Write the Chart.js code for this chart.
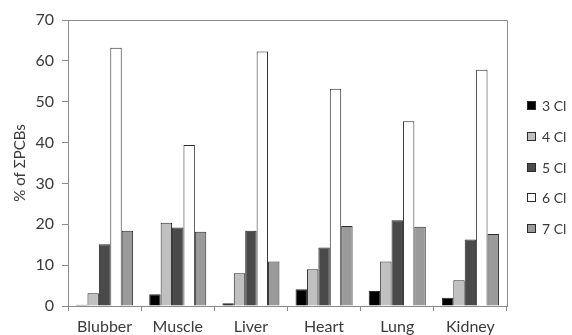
<!DOCTYPE html>
<html><head><meta charset="utf-8">
<script src="https://cdn.jsdelivr.net/npm/chart.js@4"></script>
<style>html,body{margin:0;padding:0;background:#fff}#wrap{width:572px;height:335px}</style>
</head><body><div id="wrap"><canvas id="c" width="572" height="335"></canvas></div>
<script>
const categories = ["Blubber","Muscle","Liver","Heart","Lung","Kidney"];
const seriesNames = ["3 Cl","4 Cl","5 Cl","6 Cl","7 Cl"];
const cl3 = [0.3, 2.9, 0.65, 4.1, 3.7, 2.0];
const cl4 = [3.1, 20.4, 8.0, 9.0, 10.9, 6.3];
const cl5 = [15.1, 19.2, 18.4, 14.3, 21.0, 16.3];
const cl6 = [63.2, 39.4, 62.3, 53.2, 45.2, 57.8];
const cl7 = [18.4, 18.2, 10.9, 19.6, 19.4, 17.6];
const yTicks = [0,10,20,30,40,50,60,70];

const fills = ["#000000","#c0c0c0","#4a4a4a","#ffffff","#9a9a9a"];
const values = [cl3, cl4, cl5, cl6, cl7];
const FONT = "Lato";
const TXT = "#3a3a3a";
const AXIS = "#8a8a8a";

const frame = {
  id: 'frame',
  afterDatasetsDraw(chart) {
    const a = chart.chartArea, ctx = chart.ctx;
    ctx.save();
    ctx.strokeStyle = AXIS; ctx.lineWidth = 1;
    ctx.beginPath();
    ctx.moveTo(Math.round(a.left)+0.5, Math.round(a.bottom)+0.5);
    ctx.lineTo(Math.round(a.left)+0.5, Math.round(a.top)+0.5);
    ctx.lineTo(Math.round(a.right)+0.5, Math.round(a.top)+0.5);
    ctx.lineTo(Math.round(a.right)+0.5, Math.round(a.bottom)+0.5);
    ctx.stroke();
    ctx.restore();
  }
};

const sideLegend = {
  id: 'sideLegend',
  afterDraw(chart) {
    const ctx = chart.ctx, ds = chart.data.datasets;
    const step = 30.8, box = 9;
    const x0 = chart.chartArea.right + 20;
    const yc = chart.height / 2 - 1;
    const y0 = yc - step * (ds.length - 1) / 2;
    ctx.save();
    ctx.font = "14px " + FONT;
    ctx.textBaseline = "middle";
    ds.forEach((d, i) => {
      const y = Math.round(y0 + i * step);
      ctx.fillStyle = d.backgroundColor;
      ctx.fillRect(x0, y - 4, box, box);
      ctx.strokeStyle = d.borderColor; ctx.lineWidth = 1;
      ctx.strokeRect(x0 + 0.5, y - 3.5, box - 1, box - 1);
      ctx.fillStyle = TXT;
      ctx.fillText(d.label, x0 + box + 6, y + 1);
    });
    ctx.restore();
  }
};

new Chart(document.getElementById('c'), {
  type: 'bar',
  data: {
    labels: categories,
    datasets: seriesNames.map((n,i)=>({
      label: n, data: values[i], backgroundColor: fills[i],
      borderColor: "#2a2a2a", borderWidth: 1,
      categoryPercentage: 0.78, barPercentage: 1.0
    }))
  },
  options: {
    responsive: false, animation: false,
    layout: { padding: { top: 20, right: 65, bottom: 0, left: 0 } },
    plugins: { legend: { display: false }, tooltip: { enabled: false } },
    scales: {
      x: {
        afterFit: (s) => { s.height = 29; },
        grid: { display: true, drawOnChartArea: false, drawTicks: true, tickLength: 5, color: AXIS, offset: true },
        border: { color: AXIS },
        ticks: { color: TXT, font: { family: FONT, size: 16 }, padding: 6 }
      },
      y: {
        min: 0, max: 70,
        afterFit: (s) => { s.width = 68; },
        afterBuildTicks: (s) => { s.ticks = yTicks.map(v=>({value:v})); },
        grid: { display: true, drawOnChartArea: false, drawTicks: true, tickLength: 6, color: AXIS },
        border: { color: AXIS },
        ticks: { color: TXT, font: { family: FONT, size: 16 }, padding: 8 },
        title: { display: true, text: "% of ΣPCBs", color: TXT, font: { family: FONT, size: 15 }, padding: { top: 11, bottom: 0 } }
      }
    }
  },
  plugins: [frame, sideLegend]
});
</script></body></html>
